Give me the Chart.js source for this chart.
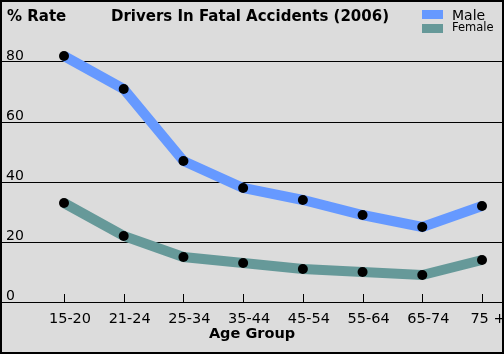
<!DOCTYPE html>
<html>
<head>
<meta charset="utf-8">
<script src="https://cdn.jsdelivr.net/npm/chart.js@4/dist/chart.umd.min.js"></script>
<style>
  html, body { margin: 0; padding: 0; background: #fff; }
  #wrap { position: relative; width: 500px; height: 350px; border: 2px solid #000; background: #dcdcdc; font-family: "DejaVu Sans", Verdana, sans-serif; color: #000; overflow: hidden; }
  #c { position: absolute; left: -5px; top: -5px; }
  .ov { position: absolute; white-space: nowrap; line-height: 13px; }
  .b { font-weight: bold; font-size: 15px; }
  .sw { position: absolute; width: 21px; height: 9px; }
</style>
</head>
<body>
<div id="wrap">
  <canvas id="c" width="510" height="360"></canvas>
  <div class="ov b" style="left:5px; top:8.3px;">% Rate</div>
  <div class="ov b" style="left:109px; top:8.3px;">Drivers In Fatal Accidents (2006)</div>
  <div class="sw" style="left:420px; top:8px; background:#6699ff;"></div>
  <div class="sw" style="left:420px; top:22px; background:#669999;"></div>
  <div class="ov" style="left:450px; top:6.7px; font-size:14px;">Male</div>
  <div class="ov" style="left:450px; top:19.2px; font-size:11.5px;">Female</div>
</div>
<script>
const ageGroups = ["15-20", "21-24", "25-34", "35-44", "45-54", "55-64", "65-74", "75 +"];
const maleRate = [82, 71, 47, 38, 34, 29, 25, 32];
const femaleRate = [33, 22, 15, 13, 11, 10, 9, 14];
const yTicks = [0, 20, 40, 60, 80];

const toXY = arr => arr.map((v, i) => ({ x: i, y: v }));

const innerTicks = {
  id: 'innerTicks',
  afterDraw(chart) {
    const xs = chart.scales.x;
    const ctx = chart.ctx;
    const bottom = chart.chartArea.bottom;
    ctx.save();
    ctx.strokeStyle = '#000';
    ctx.lineWidth = 1;
    ctx.beginPath();
    ageGroups.forEach((_, i) => {
      const px = Math.round(xs.getPixelForValue(i)) + 0.5;
      ctx.moveTo(px, bottom - 8);
      ctx.lineTo(px, bottom);
    });
    ctx.stroke();
    ctx.restore();
  }
};

const spacing = 418 / 7;
new Chart(document.getElementById('c'), {
  type: 'line',
  data: {
    datasets: [
      { label: 'Male', data: toXY(maleRate), borderColor: '#6699ff', backgroundColor: '#6699ff', borderWidth: 10, pointRadius: 5, pointBackgroundColor: '#000', pointBorderWidth: 0, tension: 0, fill: false },
      { label: 'Female', data: toXY(femaleRate), borderColor: '#669999', backgroundColor: '#669999', borderWidth: 10, pointRadius: 5, pointBackgroundColor: '#000', pointBorderWidth: 0, tension: 0, fill: false }
    ]
  },
  options: {
    responsive: false,
    animation: false,
    devicePixelRatio: 1,
    layout: { padding: 0 },
    plugins: { legend: { display: false }, title: { display: false }, tooltip: { enabled: false } },
    scales: {
      x: {
        type: 'linear',
        min: -62 / spacing,
        max: 7 + 20 / spacing,
        afterBuildTicks: s => { s.ticks = ageGroups.map((_, i) => ({ value: i })); },
        afterFit: s => { s.height = 55; s.paddingLeft = 0; s.paddingRight = 0; },
        grid: { display: false, drawTicks: false },
        border: { display: false },
        ticks: {
          autoSkip: false, maxRotation: 0, labelOffset: 6, padding: 9,
          color: '#000', font: { family: 'DejaVu Sans', size: 14.5 },
          callback: v => ageGroups[v]
        },
        title: { display: true, text: 'Age Group', color: '#000', font: { family: 'DejaVu Sans', size: 14.5, weight: 'bold' }, padding: { top: 0, bottom: 14 } }
      },
      y: {
        min: 0,
        max: 100,
        afterBuildTicks: s => { s.ticks = yTicks.map(v => ({ value: v })); },
        afterFit: s => { s.width = 0; s.paddingTop = 0; s.paddingBottom = 0; },
        grid: { color: '#000', lineWidth: 1, drawTicks: false },
        border: { display: false },
        ticks: { mirror: true, padding: 4, labelOffset: -6, color: '#000', font: { family: 'DejaVu Sans', size: 14 } }
      }
    }
  },
  plugins: [innerTicks]
});
</script>
</body>
</html>
